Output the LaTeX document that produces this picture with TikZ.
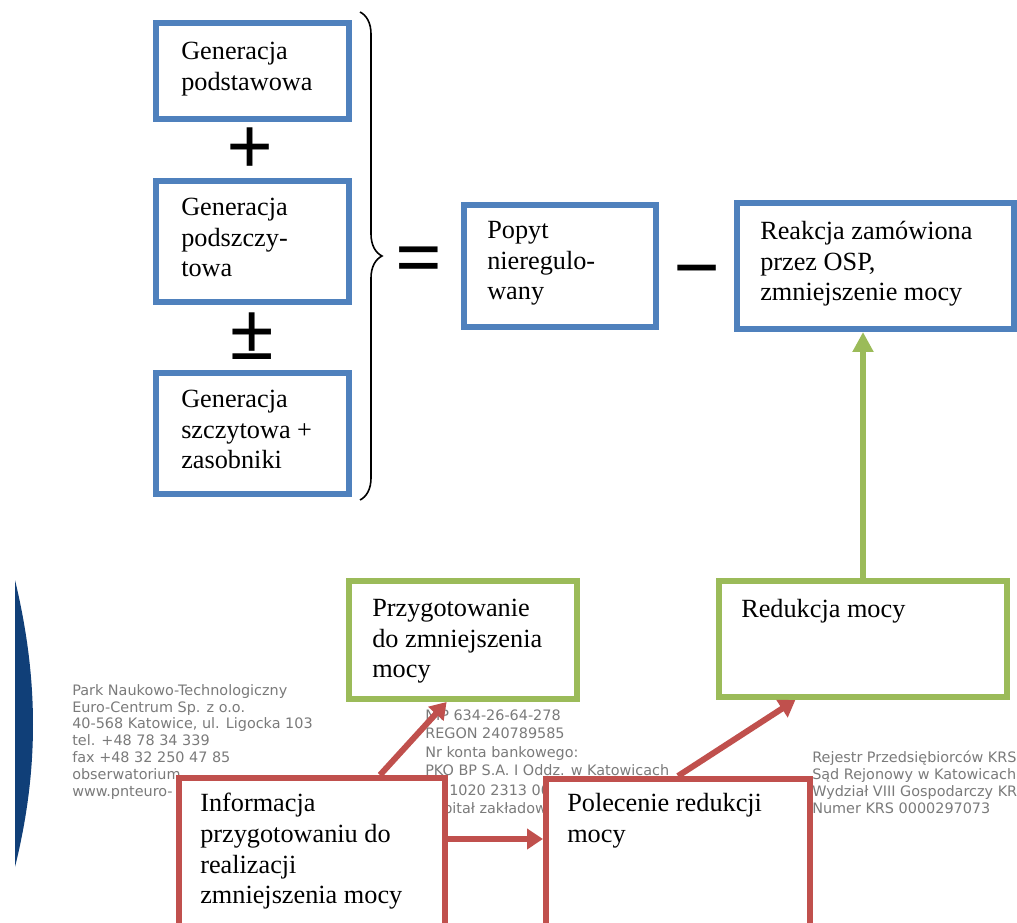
\documentclass[tikz,border=0pt]{standalone}
\usepackage{fontspec}
\setmainfont{Liberation Serif}
\newfontfamily\letterfont{DejaVu Sans}
\usetikzlibrary{arrows.meta,fit,calc,decorations.pathreplacing}

\definecolor{genblue}{RGB}{79,129,189}
\definecolor{prepgreen}{RGB}{155,187,89}
\definecolor{ordred}{RGB}{192,80,77}
\definecolor{lettergray}{RGB}{122,122,122}
\definecolor{logoblue}{RGB}{16,63,120}

\tikzset{
  boxframe/.style={draw, line width=4.5pt, fill=white, inner sep=0pt},
  bluebox/.style={boxframe, draw=genblue},
  greenbox/.style={boxframe, draw=prepgreen},
  redbox/.style={boxframe, draw=ordred},
  boxtext/.style={anchor=north west, inner sep=0pt, align=left,
    font=\fontsize{19.7}{23}\selectfont},
  sign/.style={inner sep=0pt, font=\fontsize{62}{62}\selectfont\bfseries},
  lettertext/.style={anchor=north west, inner sep=0pt, align=left, text=lettergray,
    font=\letterfont\fontsize{10.8}{12.6}\selectfont},
  greenarrow/.style={draw=prepgreen, line width=4.5pt, -{Triangle[length=15pt,width=15pt]}},
  redarrow/.style={draw=ordred, line width=4.5pt, -{Triangle[length=12pt,width=15pt]}},
}

\begin{document}
\begin{tikzpicture}[x=0.75pt,y=-0.75pt]
\useasboundingbox (0,0) rectangle (1017,923);
% letterhead in the background
\fill[logoblue] (15,580) .. controls (39,680) and (39,770) .. (15,867) -- cycle;
\node[lettertext] (addr) at (72,684) {Park Naukowo-Technologiczny\\Euro-Centrum Sp. z o.o.\\40-568 Katowice, ul. Ligocka 103\\tel. +48 78 34 339\\fax +48 32 250 47 85\\obserwatorium\\www.pnteuro-};
\node[lettertext, font=\letterfont\fontsize{10.8}{13.8}\selectfont] (bank) at (425,709.6) {NIP 634-26-64-278\\REGON 240789585\\Nr konta bankowego:\\PKO BP S.A. I Oddz. w Katowicach};
\node[lettertext, anchor=base west] (acct) at (449,795) {1020 2313 00};
\node[lettertext, anchor=base west] (capital) at (425,813) {Kapitał zakładowy};
\node[lettertext] (krs) at (812,751) {Rejestr Przedsiębiorców KRS\\Sąd Rejonowy w Katowicach\\Wydział VIII Gospodarczy KRS\\Numer KRS 0000297073};

% generation side
\node[bluebox, fit={(156,23) (349,119)}] (gen1) {};
\node[boxtext] (gen1t) at (181,42) {Generacja\\podstawowa};
\node[sign] (plus) at (250,151) {+};
\node[bluebox, fit={(156,181) (349,302)}] (gen2) {};
\node[boxtext] (gen2t) at (181,198) {Generacja\\podszczy-\\towa};
\node[sign] (pm) at (252,336) {±};
\node[bluebox, fit={(156,373) (349,494)}] (gen3) {};
\node[boxtext] (gen3t) at (181,390) {Generacja\\szczytowa +\\zasobniki};
\draw[decorate, decoration={brace, amplitude=16.5pt}, line width=1.2pt] (360,12) -- (360,500);

% demand side
\node[sign] (eq) at (419,266) {=};
\node[bluebox, fit={(464,205) (656,327)}] (popyt) {};
\node[boxtext] (popytt) at (487,221) {Popyt\\nieregulo-\\wany};
\node[sign] (minus) at (697,280) {−};
\node[bluebox, fit={(737,203) (1014,329)}] (reakcja) {};
\node[boxtext] (reakcjat) at (760,221) {Reakcja zamówiona\\przez OSP,\\zmniejszenie mocy};

% procedure
\node[greenbox, fit={(349,581) (577,699)}] (przyg) {};
\node[boxtext] (przygt) at (372,599) {Przygotowanie\\do zmniejszenia\\mocy};
\node[greenbox, fit={(719,581) (1007,697)}] (reduk) {};
\node[boxtext] (redukt) at (741,599) {Redukcja mocy};
\node[redbox, fit={(179,778) (445,940)}] (info) {};
\node[boxtext] (infot) at (200,793) {Informacja\\przygotowaniu do\\realizacji\\zmniejszenia mocy};
\node[redbox, fit={(546,779) (810,940)}] (pol) {};
\node[boxtext] (polt) at (567,793) {Polecenie redukcji\\mocy};

\coordinate (link) at (0,839);
\draw[greenarrow] (reduk.north) -- (reduk.north |- reakcja.south);
\draw[redarrow] ($(info.north west)!0.75!(info.north east)$) -- ($(przyg.south west)!0.43!(przyg.south east)$);
\draw[redarrow] (pol.north) -- ($(reduk.south west)!0.27!(reduk.south east)$);
\draw[redarrow] (info.east |- link) -- (pol.west |- link);
\end{tikzpicture}
\end{document}
